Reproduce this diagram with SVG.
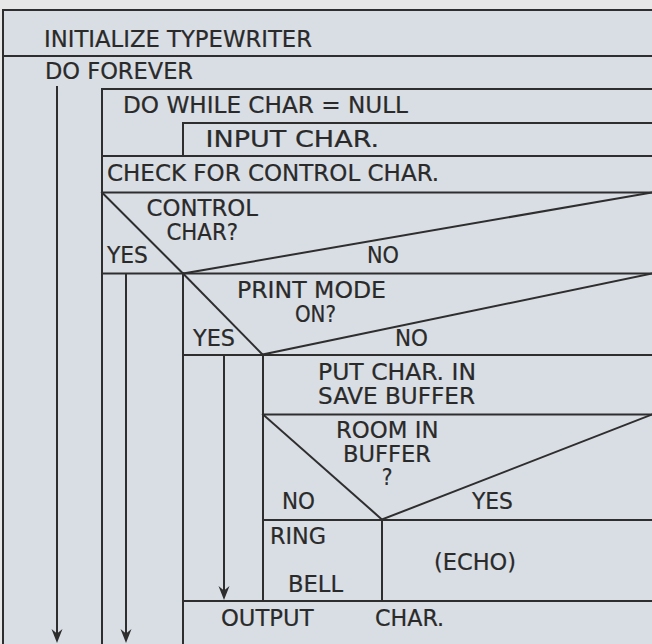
<svg xmlns="http://www.w3.org/2000/svg" width="652" height="644" viewBox="0 0 652 644">
<style>
  .ln { stroke: #2e2e2e; stroke-width: 2; fill: none; stroke-linecap: square; }
  .t { font-family: "DejaVu Sans Condensed", "Liberation Sans", sans-serif; font-stretch: condensed; font-size: 22.5px; fill: #2a2a2a; stroke: #2a2a2a; stroke-width: 0.2; }
  .c { text-anchor: middle; }
  .ah { fill: #2e2e2e; }
</style>
<defs>
  <path id="head" d="M0,0 L-5.5,-14 L0,-9.5 L5.5,-14 Z"/>
</defs>
<rect x="0" y="0" width="652" height="644" fill="#e6e7e6"/>
<rect x="3" y="10" width="649" height="634" fill="#d9dee4"/>

<g id="connectors">
  <line class="ln" x1="57" y1="87" x2="57" y2="636"/>
  <use href="#head" class="ah" x="57" y="643"/>
  <line class="ln" x1="126" y1="274" x2="126" y2="636"/>
  <use href="#head" class="ah" x="126" y="643"/>
  <line class="ln" x1="224" y1="355" x2="224" y2="593"/>
  <use href="#head" class="ah" x="224" y="600"/>
</g>

<g id="frame">
  <line class="ln" x1="3" y1="10" x2="652" y2="10"/>
  <line class="ln" x1="3" y1="10" x2="3" y2="644"/>
</g>

<g id="init">
  <line class="ln" x1="3" y1="56" x2="652" y2="56"/>
  <text class="t" x="44" y="46.5" textLength="268" lengthAdjust="spacingAndGlyphs">INITIALIZE TYPEWRITER</text>
</g>

<g id="doforever">
  <text class="t" x="45" y="78.5" textLength="148" lengthAdjust="spacingAndGlyphs">DO FOREVER</text>
  <line class="ln" x1="102" y1="89" x2="652" y2="89"/>
  <line class="ln" x1="102" y1="89" x2="102" y2="644"/>
</g>

<g id="dowhile">
  <text class="t" x="123" y="112.5" textLength="285" lengthAdjust="spacingAndGlyphs">DO WHILE CHAR = NULL</text>
  <line class="ln" x1="183" y1="123" x2="652" y2="123"/>
  <line class="ln" x1="183" y1="123" x2="183" y2="156"/>
</g>

<g id="input">
  <text class="t" x="205.5" y="146.5" textLength="173.5" lengthAdjust="spacingAndGlyphs">INPUT CHAR.</text>
  <line class="ln" x1="102" y1="156" x2="652" y2="156"/>
</g>

<g id="check">
  <text class="t" x="107" y="181" textLength="332" lengthAdjust="spacingAndGlyphs">CHECK FOR CONTROL CHAR.</text>
  <line class="ln" x1="102" y1="192.5" x2="652" y2="192.5"/>
</g>

<g id="dec-control">
  <line class="ln" x1="102" y1="192.5" x2="183" y2="273.5"/>
  <line class="ln" x1="183" y1="273.5" x2="652" y2="192.5"/>
  <text class="t" x="146.5" y="215.5" textLength="111.5" lengthAdjust="spacingAndGlyphs">CONTROL</text>
  <text class="t" x="166.5" y="239.5" textLength="71.5" lengthAdjust="spacingAndGlyphs">CHAR?</text>
  <text class="t" x="107" y="262.5" textLength="41" lengthAdjust="spacingAndGlyphs">YES</text>
  <text class="t" x="367" y="262.5" textLength="32" lengthAdjust="spacingAndGlyphs">NO</text>
  <line class="ln" x1="102" y1="273.5" x2="652" y2="273.5"/>
  <line class="ln" x1="183" y1="273.5" x2="183" y2="644"/>
</g>

<g id="dec-print">
  <line class="ln" x1="183" y1="273.5" x2="262.5" y2="354.5"/>
  <line class="ln" x1="262.5" y1="354.5" x2="652" y2="273.5"/>
  <text class="t" x="237" y="298" textLength="149" lengthAdjust="spacingAndGlyphs">PRINT MODE</text>
  <text class="t" x="295" y="321.5" textLength="41" lengthAdjust="spacingAndGlyphs">ON?</text>
  <text class="t" x="193" y="345.5" textLength="42" lengthAdjust="spacingAndGlyphs">YES</text>
  <text class="t" x="395" y="345.5" textLength="33" lengthAdjust="spacingAndGlyphs">NO</text>
  <line class="ln" x1="183" y1="355" x2="652" y2="355"/>
  <line class="ln" x1="263" y1="355" x2="263" y2="601"/>
</g>

<g id="put">
  <text class="t" x="318" y="379.5" textLength="158" lengthAdjust="spacingAndGlyphs">PUT CHAR. IN</text>
  <text class="t" x="318" y="403.5" textLength="157" lengthAdjust="spacingAndGlyphs">SAVE BUFFER</text>
  <line class="ln" x1="263" y1="414.5" x2="652" y2="414.5"/>
</g>

<g id="dec-room">
  <line class="ln" x1="263" y1="414.5" x2="382" y2="519.5"/>
  <line class="ln" x1="382" y1="519.5" x2="652" y2="414.5"/>
  <text class="t" x="336" y="437.5" textLength="102.5" lengthAdjust="spacingAndGlyphs">ROOM IN</text>
  <text class="t" x="343" y="461.5" textLength="88" lengthAdjust="spacingAndGlyphs">BUFFER</text>
  <text class="t c" x="387" y="485">?</text>
  <text class="t" x="282" y="509" textLength="33" lengthAdjust="spacingAndGlyphs">NO</text>
  <text class="t" x="472" y="509" textLength="41" lengthAdjust="spacingAndGlyphs">YES</text>
  <line class="ln" x1="263" y1="520" x2="652" y2="520"/>
</g>

<g id="ring">
  <text class="t" x="270" y="544" textLength="56" lengthAdjust="spacingAndGlyphs">RING</text>
  <text class="t" x="288" y="591.5" textLength="55" lengthAdjust="spacingAndGlyphs">BELL</text>
  <line class="ln" x1="382" y1="520" x2="382" y2="601"/>
</g>

<g id="echo">
  <text class="t" x="434" y="569.5" textLength="82" lengthAdjust="spacingAndGlyphs">(ECHO)</text>
</g>

<g id="output">
  <line class="ln" x1="183" y1="601" x2="652" y2="601"/>
  <text class="t" x="221" y="625.5" textLength="92.5" lengthAdjust="spacingAndGlyphs">OUTPUT</text>
  <text class="t" x="375" y="625.5" textLength="69" lengthAdjust="spacingAndGlyphs">CHAR.</text>
</g>
</svg>
